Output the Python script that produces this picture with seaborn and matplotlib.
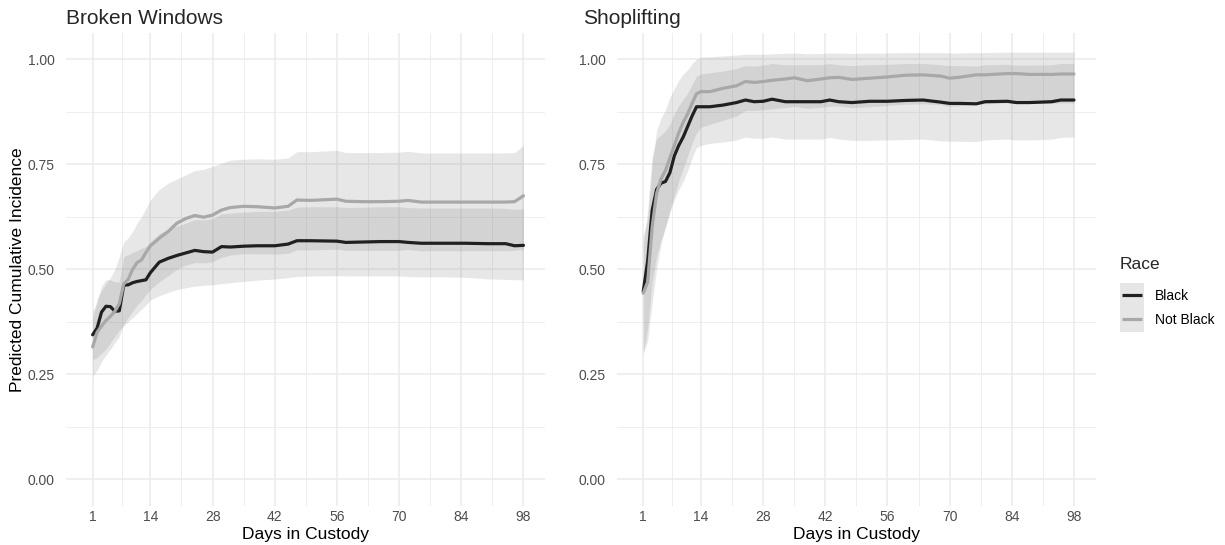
import numpy as np
import pandas as pd
import matplotlib
matplotlib.use("Agg")
import matplotlib.pyplot as plt
import seaborn as sns
from matplotlib.lines import Line2D
from matplotlib.patches import Rectangle
from matplotlib.legend_handler import HandlerBase

sns.set_theme(style="white")
plt.rcParams["font.family"] = ["Liberation Sans", "DejaVu Sans"]

# ---------------- Broken Windows ----------------
bw_days = [1, 2, 3, 4, 5, 6, 7, 8, 9, 10, 11, 12, 13, 14, 16, 18, 20, 22, 24, 26, 28,
           30, 32, 35, 38, 42, 45, 47, 50, 56, 58, 62, 66, 70, 72, 75, 80, 85, 90, 94, 96, 98]
bw_black = [0.344, 0.360, 0.398, 0.412, 0.411, 0.400, 0.401, 0.462, 0.463, 0.468, 0.471,
            0.473, 0.475, 0.492, 0.517, 0.526, 0.533, 0.539, 0.545, 0.542, 0.541, 0.554,
            0.553, 0.555, 0.556, 0.556, 0.560, 0.568, 0.568, 0.567, 0.564, 0.565, 0.566,
            0.566, 0.564, 0.562, 0.562, 0.562, 0.561, 0.561, 0.556, 0.557]
bw_black_lo = [0.285, 0.290, 0.300, 0.310, 0.325, 0.340, 0.355, 0.365, 0.375, 0.385, 0.395,
               0.405, 0.415, 0.427, 0.437, 0.445, 0.452, 0.456, 0.460, 0.462, 0.463, 0.466,
               0.468, 0.471, 0.474, 0.477, 0.480, 0.483, 0.484, 0.485, 0.484, 0.484, 0.484,
               0.484, 0.483, 0.482, 0.482, 0.481, 0.477, 0.476, 0.475, 0.475]
bw_black_hi = [0.400, 0.420, 0.460, 0.475, 0.475, 0.470, 0.470, 0.530, 0.535, 0.540, 0.545,
               0.550, 0.555, 0.565, 0.585, 0.595, 0.603, 0.610, 0.618, 0.618, 0.620, 0.632,
               0.634, 0.636, 0.638, 0.638, 0.641, 0.648, 0.649, 0.649, 0.647, 0.648, 0.649,
               0.649, 0.647, 0.646, 0.646, 0.646, 0.646, 0.645, 0.643, 0.644]
bw_other = [0.315, 0.350, 0.365, 0.378, 0.388, 0.400, 0.418, 0.465, 0.476, 0.500, 0.516,
            0.522, 0.540, 0.556, 0.574, 0.590, 0.610, 0.621, 0.628, 0.624, 0.629, 0.641,
            0.647, 0.650, 0.649, 0.646, 0.650, 0.665, 0.664, 0.667, 0.662, 0.661, 0.661,
            0.662, 0.664, 0.660, 0.660, 0.660, 0.660, 0.660, 0.661, 0.675]
bw_other_lo = [0.244, 0.260, 0.280, 0.295, 0.310, 0.325, 0.340, 0.370, 0.385, 0.400, 0.415,
               0.425, 0.440, 0.452, 0.470, 0.485, 0.500, 0.510, 0.516, 0.515, 0.518, 0.528,
               0.534, 0.537, 0.537, 0.536, 0.538, 0.546, 0.546, 0.548, 0.545, 0.545, 0.545,
               0.545, 0.547, 0.544, 0.544, 0.544, 0.544, 0.544, 0.545, 0.547]
bw_other_hi = [0.380, 0.430, 0.450, 0.465, 0.480, 0.500, 0.530, 0.565, 0.575, 0.590, 0.610,
               0.625, 0.645, 0.665, 0.690, 0.705, 0.715, 0.725, 0.735, 0.738, 0.745, 0.752,
               0.760, 0.762, 0.763, 0.762, 0.765, 0.780, 0.780, 0.783, 0.778, 0.778, 0.778,
               0.779, 0.781, 0.777, 0.777, 0.777, 0.777, 0.777, 0.778, 0.795]

# ---------------- Shoplifting ----------------
sl_days = [1, 2, 3, 4, 5, 6, 7, 8, 9, 10, 11, 12, 13, 14, 16, 19, 22, 24, 26, 28, 30, 33,
           35, 38, 41, 43, 45, 48, 52, 56, 60, 64, 68, 70, 72, 76, 78, 83, 85, 88, 93, 95, 98]
sl_black = [0.447, 0.520, 0.640, 0.690, 0.705, 0.709, 0.730, 0.770, 0.795, 0.815, 0.840,
            0.865, 0.887, 0.887, 0.887, 0.891, 0.897, 0.903, 0.899, 0.900, 0.905, 0.899,
            0.899, 0.899, 0.899, 0.903, 0.899, 0.897, 0.900, 0.900, 0.902, 0.903, 0.898,
            0.895, 0.895, 0.894, 0.899, 0.900, 0.897, 0.897, 0.899, 0.903, 0.903]
sl_black_lo = [0.300, 0.360, 0.470, 0.530, 0.570, 0.600, 0.635, 0.665, 0.690, 0.710, 0.735,
               0.765, 0.790, 0.795, 0.800, 0.803, 0.808, 0.815, 0.812, 0.812, 0.815, 0.810,
               0.810, 0.810, 0.810, 0.814, 0.810, 0.807, 0.807, 0.808, 0.809, 0.810, 0.806,
               0.805, 0.805, 0.804, 0.808, 0.810, 0.808, 0.808, 0.810, 0.814, 0.815]
sl_black_hi = [0.560, 0.640, 0.770, 0.810, 0.820, 0.830, 0.845, 0.870, 0.890, 0.905, 0.920,
               0.940, 0.960, 0.965, 0.968, 0.972, 0.978, 0.985, 0.984, 0.986, 0.990, 0.987,
               0.987, 0.987, 0.987, 0.990, 0.987, 0.985, 0.987, 0.988, 0.990, 0.990, 0.987,
               0.985, 0.985, 0.984, 0.987, 0.988, 0.986, 0.986, 0.987, 0.990, 0.990]
sl_other = [0.443, 0.470, 0.600, 0.680, 0.715, 0.735, 0.765, 0.795, 0.825, 0.850, 0.870,
            0.895, 0.918, 0.923, 0.923, 0.931, 0.937, 0.947, 0.945, 0.947, 0.950, 0.953,
            0.956, 0.949, 0.953, 0.956, 0.957, 0.952, 0.955, 0.958, 0.962, 0.963, 0.960,
            0.955, 0.957, 0.963, 0.963, 0.966, 0.966, 0.964, 0.964, 0.965, 0.965]
sl_other_lo = [0.300, 0.330, 0.420, 0.500, 0.560, 0.600, 0.640, 0.675, 0.710, 0.740, 0.770,
               0.800, 0.825, 0.838, 0.845, 0.855, 0.865, 0.878, 0.878, 0.880, 0.882, 0.885,
               0.888, 0.883, 0.886, 0.888, 0.889, 0.885, 0.887, 0.890, 0.893, 0.894, 0.892,
               0.888, 0.889, 0.894, 0.894, 0.896, 0.896, 0.895, 0.895, 0.896, 0.896]
sl_other_hi = [0.580, 0.620, 0.750, 0.830, 0.860, 0.880, 0.910, 0.930, 0.950, 0.965, 0.975,
               0.990, 1.000, 1.005, 1.006, 1.008, 1.010, 1.012, 1.012, 1.012, 1.013, 1.014,
               1.015, 1.013, 1.014, 1.015, 1.015, 1.014, 1.015, 1.015, 1.016, 1.016, 1.016,
               1.015, 1.015, 1.016, 1.016, 1.017, 1.017, 1.017, 1.017, 1.017, 1.017]

race_levels = ["Black", "Not Black"]
panel_titles = ["Broken Windows", "Shoplifting"]
x_breaks = [1, 14, 28, 42, 56, 70, 84, 98]
y_breaks = [0.0, 0.25, 0.5, 0.75, 1.0]

line_colors = {"Black": "#202020", "Not Black": "#a8a8a8"}
ribbon_color = "#7b7b7b"
ribbon_alpha = 0.175
grid_color = "#ebebeb"
text_grey = "#4d4d4d"


def build_frame(days, b, b_lo, b_hi, o, o_lo, o_hi):
    parts = []
    for race, est, lo, hi in [("Black", b, b_lo, b_hi), ("Not Black", o, o_lo, o_hi)]:
        parts.append(pd.DataFrame({"day": days, "est": est, "lo": lo, "hi": hi, "Race": race}))
    return pd.concat(parts, ignore_index=True)


frames = [
    build_frame(bw_days, bw_black, bw_black_lo, bw_black_hi, bw_other, bw_other_lo, bw_other_hi),
    build_frame(sl_days, sl_black, sl_black_lo, sl_black_hi, sl_other, sl_other_lo, sl_other_hi),
]


class RibbonKey(HandlerBase):
    """Legend key: a shaded square with the series line across it."""

    def create_artists(self, legend, orig_handle, xdescent, ydescent, width, height,
                       fontsize, trans):
        side = min(width, height)
        x0 = -xdescent
        y0 = -ydescent + (height - side) / 2
        box = Rectangle((x0, y0), side, side, facecolor="#e6e6e6", edgecolor="none",
                        transform=trans)
        m = side * 0.08
        ln = Line2D([x0 + m, x0 + side - m], [y0 + side / 2] * 2,
                    color=orig_handle.get_color(), linewidth=orig_handle.get_linewidth(),
                    solid_capstyle="butt", transform=trans)
        return [box, ln]


W, H = 1225, 545
fig = plt.figure(figsize=(W / 100, H / 100), dpi=100)
fig.patch.set_facecolor("white")

panel_px = [(66, 545), (616.6, 1095.5)]
top_px, bot_px = 33, 506
axes = []
for (x0, x1) in panel_px:
    ax = fig.add_axes([x0 / W, (H - bot_px) / H, (x1 - x0) / W, (bot_px - top_px) / H])
    axes.append(ax)

for i, (ax, df) in enumerate(zip(axes, frames)):
    for race in race_levels:
        sub = df[df["Race"] == race]
        ax.fill_between(sub["day"], sub["lo"], sub["hi"], color=ribbon_color,
                        alpha=ribbon_alpha, linewidth=0, zorder=2)
    sns.lineplot(data=df, x="day", y="est", hue="Race", hue_order=race_levels,
                 palette=line_colors, linewidth=2.3, ax=ax, legend=False, zorder=3,
                 estimator=None, sort=True)

    ax.set_xlim(-5.0, 102.85)
    ax.set_ylim(-0.0636, 1.0626)
    ax.set_xticks(x_breaks)
    ax.set_xticks([7.5, 21, 35, 49, 63, 77, 91], minor=True)
    ax.set_yticks(y_breaks)
    ax.set_yticks([0.125, 0.375, 0.625, 0.875], minor=True)
    ax.set_yticklabels(["0.00", "0.25", "0.50", "0.75", "1.00"])
    ax.grid(which="major", color=grid_color, linewidth=1.1, zorder=0)
    ax.grid(which="minor", color=grid_color, linewidth=0.6, zorder=0)
    ax.set_axisbelow(True)
    for s in ax.spines.values():
        s.set_visible(False)
    ax.tick_params(axis="both", which="both", length=0, labelsize=10, labelcolor=text_grey)
    ax.tick_params(axis="y", pad=8)
    ax.tick_params(axis="x", pad=3)
    ax.set_xlabel("Days in Custody", fontsize=12.5, color="black", labelpad=2)
    ax.set_ylabel("")
    ax.set_facecolor("white")

axes[0].set_ylabel("Predicted Cumulative Incidence", fontsize=12.5, color="black", labelpad=2)

fig.text(66 / W, 1 - 18 / H, panel_titles[0], fontsize=15, ha="left", va="center")
fig.text(583 / W, 1 - 18 / H, panel_titles[1], fontsize=15, ha="left", va="center")

handles = [Line2D([0], [0], color=line_colors[r], linewidth=2.3) for r in race_levels]
leg = fig.legend(handles, race_levels, title="Race", loc="upper left",
                 bbox_to_anchor=(1109 / W, 1 - 246 / H), frameon=False,
                 handler_map={Line2D: RibbonKey()},
                 handlelength=1.75, handleheight=2.3, handletextpad=0.75,
                 labelspacing=0.0, fontsize=10, title_fontsize=12.5, alignment="left",
                 borderpad=0.3)
leg._legend_box.sep = 8.0
for t in leg.get_texts():
    t.set_color("black")

fig.savefig("out.png", dpi=100, facecolor="white")
